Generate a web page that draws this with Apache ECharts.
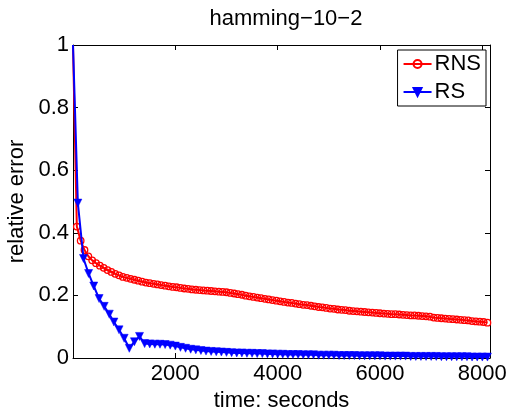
<!DOCTYPE html>
<html><head><meta charset="utf-8">
<script src="https://cdn.jsdelivr.net/npm/echarts@6/dist/echarts.min.js"></script>
<style>html,body{margin:0;padding:0;background:#fff}#c{width:514px;height:410px}</style>
</head><body><div id="c"></div>
<script>
const titleText = 'hamming\u221210\u22122';
const xName = 'time: seconds';
const yName = 'relative error';
const xTicks = [0, 2000, 4000, 6000, 8000];
const yTicks = [0, 0.2, 0.4, 0.6, 0.8, 1];

const rnsTime = [0,75,150,225,300,375,450,525,600,675,750,825,900,975,1050,1125,1200,1275,1350,1425,1500,1575,1650,1725,1800,1875,1950,2025,2100,2175,2250,2325,2400,2475,2550,2625,2700,2775,2850,2925,3000,3075,3150,3225,3300,3375,3450,3525,3600,3675,3750,3825,3900,3975,4050,4125,4200,4275,4350,4425,4500,4575,4650,4725,4800,4875,4950,5025,5100,5175,5250,5325,5400,5475,5550,5625,5700,5775,5850,5925,6000,6075,6150,6225,6300,6375,6450,6525,6600,6675,6750,6825,6900,6975,7050,7125,7200,7275,7350,7425,7500,7575,7650,7725,7800,7875,7950,8025,8100];
const rnsErr = [1.0,0.42,0.375,0.345,0.325,0.312,0.303,0.295,0.288,0.281,0.275,0.269,0.264,0.259,0.256,0.253,0.250,0.247,0.244,0.241,0.239,0.237,0.235,0.233,0.231,0.229,0.227,0.226,0.224,0.222,0.221,0.219,0.218,0.217,0.216,0.215,0.214,0.213,0.212,0.211,0.210,0.208,0.206,0.204,0.202,0.199,0.197,0.195,0.193,0.191,0.189,0.187,0.185,0.183,0.181,0.179,0.177,0.176,0.174,0.172,0.170,0.169,0.167,0.165,0.163,0.162,0.160,0.158,0.157,0.155,0.154,0.153,0.151,0.150,0.149,0.148,0.147,0.146,0.145,0.144,0.143,0.142,0.141,0.140,0.140,0.139,0.138,0.137,0.136,0.136,0.135,0.134,0.133,0.132,0.129,0.128,0.127,0.126,0.125,0.124,0.123,0.122,0.121,0.120,0.118,0.117,0.116,0.115,0.113];

const rsTime = [0,95,205,305,405,510,610,710,800,900,1000,1100,1200,1300,1400,1500,1600,1700,1800,1900,2000,2100,2200,2300,2400,2500,2600,2700,2800,2900,3000,3100,3200,3300,3400,3500,3600,3700,3800,3900,4000,4100,4200,4300,4400,4500,4600,4700,4800,4900,5000,5100,5200,5300,5400,5500,5600,5700,5800,5900,6000,6100,6200,6300,6400,6500,6600,6700,6800,6900,7000,7100,7200,7300,7400,7500,7600,7700,7800,7900,8000,8100];
const rsErr = [1.0,0.495,0.318,0.27,0.23,0.19,0.165,0.14,0.115,0.09,0.063,0.031,0.052,0.069,0.046,0.045,0.044,0.044,0.043,0.041,0.038,0.034,0.031,0.028,0.026,0.024,0.022,0.021,0.020,0.019,0.018,0.017,0.016,0.016,0.015,0.015,0.014,0.014,0.013,0.013,0.012,0.012,0.011,0.011,0.011,0.010,0.010,0.010,0.009,0.009,0.009,0.009,0.008,0.008,0.008,0.008,0.007,0.007,0.007,0.007,0.007,0.006,0.006,0.006,0.006,0.006,0.005,0.005,0.005,0.005,0.005,0.005,0.004,0.004,0.004,0.004,0.004,0.004,0.003,0.003,0.003,0.003];

const FONT = 'Liberation Sans, Arial, Helvetica, sans-serif';
const FS = 22;
const X_MAX = 8150;
const chart = echarts.init(document.getElementById('c'), null, {renderer: 'canvas'});

const pairs = (xs, ys) => xs.map((x, i) => [x, ys[i]]);
const baseX = {
  type: 'value', min: 0, max: X_MAX, interval: 2000,
  axisLine: {show: true, onZero: false, lineStyle: {color: '#000', width: 1}},
  axisTick: {show: true, inside: true, length: 5, lineStyle: {color: '#000'}},
  splitLine: {show: false}
};
const baseY = {
  type: 'value', min: 0, max: 1, interval: 0.2,
  axisLine: {show: true, onZero: false, lineStyle: {color: '#000', width: 1}},
  axisTick: {show: true, inside: true, length: 5, lineStyle: {color: '#000'}},
  splitLine: {show: false}
};

chart.setOption({
  animation: false,
  backgroundColor: '#fff',
  title: {
    text: titleText, left: 281, top: 3, textAlign: 'center',
    textStyle: {fontFamily: FONT, fontSize: FS, fontWeight: 'normal', color: '#000'}
  },
  grid: {left: 73, right: 24, top: 45, bottom: 52, containLabel: false, outerBoundsMode: 'none'},
  legend: {
    orient: 'vertical', right: 28, top: 50,
    backgroundColor: '#fff', borderColor: '#000', borderWidth: 1,
    padding: [3, 5, 3, 5], itemGap: 6, itemWidth: 28, itemHeight: 10,
    textStyle: {fontFamily: FONT, fontSize: FS, lineHeight: 22, color: '#000', padding: [0, 0, 0, -2]},
    data: ['RNS', 'RS']
  },
  xAxis: [
    Object.assign({}, baseX, {
      position: 'bottom', name: xName, nameLocation: 'middle', nameGap: 24,
      nameTextStyle: {fontFamily: FONT, fontSize: FS, color: '#000'},
      axisLabel: {show: true, margin: 5, fontFamily: FONT, fontSize: FS, color: '#000',
        showMinLabel: false, showMaxLabel: false,
        formatter: v => (xTicks.indexOf(v) >= 0 && v !== 0) ? String(v) : ''}
    }),
    Object.assign({}, baseX, {position: 'top', axisLabel: {show: false}})
  ],
  yAxis: [
    Object.assign({}, baseY, {
      position: 'left', name: yName, nameLocation: 'middle', nameGap: 38,
      nameTextStyle: {fontFamily: FONT, fontSize: FS, color: '#000'},
      axisLabel: {show: true, margin: 4, fontFamily: FONT, fontSize: FS, color: '#000',
        formatter: v => yTicks.indexOf(Math.round(v * 10) / 10) >= 0 ? String(Math.round(v * 10) / 10) : ''}
    }),
    Object.assign({}, baseY, {position: 'right', axisLabel: {show: false}})
  ],
  series: [
    {
      name: 'RNS', type: 'line', data: pairs(rnsTime, rnsErr),
      symbol: 'circle', symbolSize: (v, p) => p.dataIndex === 0 ? 0 : 6.5,
      showAllSymbol: true, clip: true,
      lineStyle: {color: '#ff0000', width: 2},
      itemStyle: {color: 'rgba(255,255,255,0)', borderColor: '#ff0000', borderWidth: 1.3},
      z: 2
    },
    {
      name: 'RS', type: 'line', data: pairs(rsTime, rsErr),
      symbol: 'triangle', symbolRotate: 180, symbolSize: (v, p) => p.dataIndex === 0 ? 0 : 8,
      showAllSymbol: true, clip: true,
      lineStyle: {color: '#0000ff', width: 2},
      itemStyle: {color: '#0000ff', borderColor: '#0000ff', borderWidth: 0.5},
      z: 3
    }
  ]
});
</script>
</body></html>
